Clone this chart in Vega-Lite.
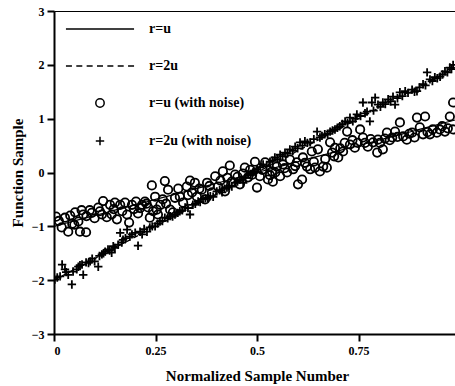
{
  "$schema": "https://vega.github.io/schema/vega-lite/v6.json",
  "autosize": "none",
  "padding": {"left": 54, "top": 11, "right": 0, "bottom": 52},
  "width": 406,
  "height": 323,
  "background": "white",
  "config": {
    "font": "Liberation Serif",
    "view": {"stroke": "black", "strokeWidth": 1},
    "axis": {
      "labelFont": "Liberation Serif", "labelFontWeight": "bold", "labelFontSize": 12, "labelColor": "black",
      "titleFont": "Liberation Serif", "titleFontWeight": "bold", "titleFontSize": 15, "titleColor": "black",
      "domainColor": "black", "domainWidth": 2, "tickColor": "black", "tickWidth": 2, "tickSize": 7, "grid": false
    },
    "legend": {
      "labelFont": "Liberation Serif", "labelFontWeight": "bold", "labelColor": "black"
    }
  },
  "datasets": {
    "lines": [
      {"x": 0, "y": -1, "series": "r=u"},
      {"x": 1, "y": 1, "series": "r=u"},
      {"x": 0, "y": -2, "series": "r=2u"},
      {"x": 1, "y": 2, "series": "r=2u"}
    ],
    "noisy": [
      {"x": 0.005, "y": -0.82, "series": "r=u (with noise)"},
      {"x": 0.012, "y": -0.9, "series": "r=u (with noise)"},
      {"x": 0.019, "y": -1.02, "series": "r=u (with noise)"},
      {"x": 0.027, "y": -0.84, "series": "r=u (with noise)"},
      {"x": 0.035, "y": -1.1, "series": "r=u (with noise)"},
      {"x": 0.04, "y": -0.8, "series": "r=u (with noise)"},
      {"x": 0.045, "y": -0.95, "series": "r=u (with noise)"},
      {"x": 0.052, "y": -0.74, "series": "r=u (with noise)"},
      {"x": 0.05, "y": -0.97, "series": "r=u (with noise)"},
      {"x": 0.06, "y": -0.91, "series": "r=u (with noise)"},
      {"x": 0.068, "y": -0.7, "series": "r=u (with noise)"},
      {"x": 0.064, "y": -1.1, "series": "r=u (with noise)"},
      {"x": 0.072, "y": -0.78, "series": "r=u (with noise)"},
      {"x": 0.079, "y": -1.11, "series": "r=u (with noise)"},
      {"x": 0.08, "y": -0.81, "series": "r=u (with noise)"},
      {"x": 0.088, "y": -0.7, "series": "r=u (with noise)"},
      {"x": 0.093, "y": -0.75, "series": "r=u (with noise)"},
      {"x": 0.1, "y": -0.85, "series": "r=u (with noise)"},
      {"x": 0.109, "y": -0.65, "series": "r=u (with noise)"},
      {"x": 0.113, "y": -0.72, "series": "r=u (with noise)"},
      {"x": 0.118, "y": -0.78, "series": "r=u (with noise)"},
      {"x": 0.121, "y": -0.53, "series": "r=u (with noise)"},
      {"x": 0.13, "y": -0.83, "series": "r=u (with noise)"},
      {"x": 0.138, "y": -0.6, "series": "r=u (with noise)"},
      {"x": 0.142, "y": -0.78, "series": "r=u (with noise)"},
      {"x": 0.147, "y": -0.68, "series": "r=u (with noise)"},
      {"x": 0.15, "y": -0.56, "series": "r=u (with noise)"},
      {"x": 0.155, "y": -0.87, "series": "r=u (with noise)"},
      {"x": 0.163, "y": -0.6, "series": "r=u (with noise)"},
      {"x": 0.168, "y": -0.72, "series": "r=u (with noise)"},
      {"x": 0.175, "y": -0.56, "series": "r=u (with noise)"},
      {"x": 0.18, "y": -0.78, "series": "r=u (with noise)"},
      {"x": 0.185, "y": -0.93, "series": "r=u (with noise)"},
      {"x": 0.192, "y": -0.6, "series": "r=u (with noise)"},
      {"x": 0.197, "y": -0.68, "series": "r=u (with noise)"},
      {"x": 0.202, "y": -0.54, "series": "r=u (with noise)"},
      {"x": 0.207, "y": -0.76, "series": "r=u (with noise)"},
      {"x": 0.212, "y": -0.66, "series": "r=u (with noise)"},
      {"x": 0.217, "y": -0.6, "series": "r=u (with noise)"},
      {"x": 0.224, "y": -0.54, "series": "r=u (with noise)"},
      {"x": 0.228, "y": -0.58, "series": "r=u (with noise)"},
      {"x": 0.232, "y": -0.65, "series": "r=u (with noise)"},
      {"x": 0.236, "y": -0.84, "series": "r=u (with noise)"},
      {"x": 0.241, "y": -0.24, "series": "r=u (with noise)"},
      {"x": 0.249, "y": -0.45, "series": "r=u (with noise)"},
      {"x": 0.244, "y": -0.72, "series": "r=u (with noise)"},
      {"x": 0.253, "y": -0.69, "series": "r=u (with noise)"},
      {"x": 0.256, "y": -0.78, "series": "r=u (with noise)"},
      {"x": 0.262, "y": -0.6, "series": "r=u (with noise)"},
      {"x": 0.268, "y": -0.5, "series": "r=u (with noise)"},
      {"x": 0.273, "y": -0.16, "series": "r=u (with noise)"},
      {"x": 0.276, "y": -0.58, "series": "r=u (with noise)"},
      {"x": 0.281, "y": -0.32, "series": "r=u (with noise)"},
      {"x": 0.286, "y": -0.69, "series": "r=u (with noise)"},
      {"x": 0.293, "y": -0.74, "series": "r=u (with noise)"},
      {"x": 0.298, "y": -0.47, "series": "r=u (with noise)"},
      {"x": 0.306, "y": -0.3, "series": "r=u (with noise)"},
      {"x": 0.31, "y": -0.45, "series": "r=u (with noise)"},
      {"x": 0.318, "y": -0.56, "series": "r=u (with noise)"},
      {"x": 0.327, "y": -0.26, "series": "r=u (with noise)"},
      {"x": 0.33, "y": -0.42, "series": "r=u (with noise)"},
      {"x": 0.335, "y": -0.15, "series": "r=u (with noise)"},
      {"x": 0.34, "y": -0.37, "series": "r=u (with noise)"},
      {"x": 0.347, "y": -0.19, "series": "r=u (with noise)"},
      {"x": 0.352, "y": -0.45, "series": "r=u (with noise)"},
      {"x": 0.358, "y": -0.3, "series": "r=u (with noise)"},
      {"x": 0.364, "y": -0.32, "series": "r=u (with noise)"},
      {"x": 0.372, "y": -0.5, "series": "r=u (with noise)"},
      {"x": 0.377, "y": -0.19, "series": "r=u (with noise)"},
      {"x": 0.383, "y": -0.25, "series": "r=u (with noise)"},
      {"x": 0.389, "y": -0.37, "series": "r=u (with noise)"},
      {"x": 0.397, "y": -0.07, "series": "r=u (with noise)"},
      {"x": 0.404, "y": -0.26, "series": "r=u (with noise)"},
      {"x": 0.41, "y": -0.15, "series": "r=u (with noise)"},
      {"x": 0.416, "y": 0.02, "series": "r=u (with noise)"},
      {"x": 0.421, "y": -0.35, "series": "r=u (with noise)"},
      {"x": 0.427, "y": -0.1, "series": "r=u (with noise)"},
      {"x": 0.433, "y": 0.13, "series": "r=u (with noise)"},
      {"x": 0.438, "y": -0.17, "series": "r=u (with noise)"},
      {"x": 0.446, "y": -0.04, "series": "r=u (with noise)"},
      {"x": 0.452, "y": -0.08, "series": "r=u (with noise)"},
      {"x": 0.458, "y": -0.22, "series": "r=u (with noise)"},
      {"x": 0.465, "y": -0.02, "series": "r=u (with noise)"},
      {"x": 0.47, "y": 0.09, "series": "r=u (with noise)"},
      {"x": 0.478, "y": -0.09, "series": "r=u (with noise)"},
      {"x": 0.483, "y": 0.05, "series": "r=u (with noise)"},
      {"x": 0.488, "y": -0.04, "series": "r=u (with noise)"},
      {"x": 0.495, "y": 0.2, "series": "r=u (with noise)"},
      {"x": 0.5, "y": -0.28, "series": "r=u (with noise)"},
      {"x": 0.507, "y": -0.07, "series": "r=u (with noise)"},
      {"x": 0.513, "y": 0.05, "series": "r=u (with noise)"},
      {"x": 0.52, "y": 0.19, "series": "r=u (with noise)"},
      {"x": 0.527, "y": -0.13, "series": "r=u (with noise)"},
      {"x": 0.532, "y": -0.05, "series": "r=u (with noise)"},
      {"x": 0.537, "y": 0.02, "series": "r=u (with noise)"},
      {"x": 0.539, "y": -0.17, "series": "r=u (with noise)"},
      {"x": 0.545, "y": 0.0, "series": "r=u (with noise)"},
      {"x": 0.549, "y": 0.11, "series": "r=u (with noise)"},
      {"x": 0.557, "y": -0.07, "series": "r=u (with noise)"},
      {"x": 0.564, "y": 0.15, "series": "r=u (with noise)"},
      {"x": 0.568, "y": 0.08, "series": "r=u (with noise)"},
      {"x": 0.574, "y": 0.0, "series": "r=u (with noise)"},
      {"x": 0.581, "y": 0.24, "series": "r=u (with noise)"},
      {"x": 0.589, "y": 0.06, "series": "r=u (with noise)"},
      {"x": 0.594, "y": 0.12, "series": "r=u (with noise)"},
      {"x": 0.598, "y": 0.19, "series": "r=u (with noise)"},
      {"x": 0.601, "y": -0.22, "series": "r=u (with noise)"},
      {"x": 0.611, "y": -0.13, "series": "r=u (with noise)"},
      {"x": 0.613, "y": 0.28, "series": "r=u (with noise)"},
      {"x": 0.618, "y": 0.18, "series": "r=u (with noise)"},
      {"x": 0.623, "y": 0.11, "series": "r=u (with noise)"},
      {"x": 0.631, "y": 0.06, "series": "r=u (with noise)"},
      {"x": 0.635, "y": 0.39, "series": "r=u (with noise)"},
      {"x": 0.64, "y": 0.2, "series": "r=u (with noise)"},
      {"x": 0.643, "y": 0.09, "series": "r=u (with noise)"},
      {"x": 0.65, "y": 0.43, "series": "r=u (with noise)"},
      {"x": 0.655, "y": 0.02, "series": "r=u (with noise)"},
      {"x": 0.663, "y": 0.11, "series": "r=u (with noise)"},
      {"x": 0.668, "y": 0.25, "series": "r=u (with noise)"},
      {"x": 0.672, "y": 0.09, "series": "r=u (with noise)"},
      {"x": 0.68, "y": 0.56, "series": "r=u (with noise)"},
      {"x": 0.685, "y": 0.37, "series": "r=u (with noise)"},
      {"x": 0.69, "y": 0.3, "series": "r=u (with noise)"},
      {"x": 0.692, "y": 0.46, "series": "r=u (with noise)"},
      {"x": 0.7, "y": 0.28, "series": "r=u (with noise)"},
      {"x": 0.705, "y": 0.45, "series": "r=u (with noise)"},
      {"x": 0.712, "y": 0.39, "series": "r=u (with noise)"},
      {"x": 0.716, "y": 0.55, "series": "r=u (with noise)"},
      {"x": 0.722, "y": 0.76, "series": "r=u (with noise)"},
      {"x": 0.729, "y": 0.52, "series": "r=u (with noise)"},
      {"x": 0.735, "y": 0.6, "series": "r=u (with noise)"},
      {"x": 0.741, "y": 0.46, "series": "r=u (with noise)"},
      {"x": 0.748, "y": 0.55, "series": "r=u (with noise)"},
      {"x": 0.754, "y": 0.8, "series": "r=u (with noise)"},
      {"x": 0.761, "y": 0.65, "series": "r=u (with noise)"},
      {"x": 0.766, "y": 0.55, "series": "r=u (with noise)"},
      {"x": 0.773, "y": 0.48, "series": "r=u (with noise)"},
      {"x": 0.78, "y": 0.62, "series": "r=u (with noise)"},
      {"x": 0.786, "y": 0.56, "series": "r=u (with noise)"},
      {"x": 0.796, "y": 0.37, "series": "r=u (with noise)"},
      {"x": 0.798, "y": 0.61, "series": "r=u (with noise)"},
      {"x": 0.803, "y": 0.55, "series": "r=u (with noise)"},
      {"x": 0.81, "y": 0.43, "series": "r=u (with noise)"},
      {"x": 0.815, "y": 0.63, "series": "r=u (with noise)"},
      {"x": 0.82, "y": 0.74, "series": "r=u (with noise)"},
      {"x": 0.827, "y": 0.6, "series": "r=u (with noise)"},
      {"x": 0.833, "y": 0.65, "series": "r=u (with noise)"},
      {"x": 0.84, "y": 0.76, "series": "r=u (with noise)"},
      {"x": 0.846, "y": 0.66, "series": "r=u (with noise)"},
      {"x": 0.852, "y": 0.93, "series": "r=u (with noise)"},
      {"x": 0.86, "y": 0.67, "series": "r=u (with noise)"},
      {"x": 0.869, "y": 0.61, "series": "r=u (with noise)"},
      {"x": 0.875, "y": 0.72, "series": "r=u (with noise)"},
      {"x": 0.882, "y": 0.74, "series": "r=u (with noise)"},
      {"x": 0.888, "y": 0.65, "series": "r=u (with noise)"},
      {"x": 0.894, "y": 1.02, "series": "r=u (with noise)"},
      {"x": 0.901, "y": 0.84, "series": "r=u (with noise)"},
      {"x": 0.909, "y": 0.71, "series": "r=u (with noise)"},
      {"x": 0.914, "y": 1.04, "series": "r=u (with noise)"},
      {"x": 0.92, "y": 0.75, "series": "r=u (with noise)"},
      {"x": 0.926, "y": 0.71, "series": "r=u (with noise)"},
      {"x": 0.933, "y": 0.8, "series": "r=u (with noise)"},
      {"x": 0.943, "y": 0.74, "series": "r=u (with noise)"},
      {"x": 0.95, "y": 0.8, "series": "r=u (with noise)"},
      {"x": 0.956, "y": 0.86, "series": "r=u (with noise)"},
      {"x": 0.963, "y": 0.76, "series": "r=u (with noise)"},
      {"x": 0.97, "y": 0.82, "series": "r=u (with noise)"},
      {"x": 0.975, "y": 1.04, "series": "r=u (with noise)"},
      {"x": 0.983, "y": 1.3, "series": "r=u (with noise)"},
      {"x": 0.983, "y": 0.8, "series": "r=u (with noise)"},
      {"x": 0.002, "y": -1.99, "series": "r=2u (with noise)"},
      {"x": 0.008, "y": -1.95, "series": "r=2u (with noise)"},
      {"x": 0.015, "y": -1.93, "series": "r=2u (with noise)"},
      {"x": 0.02, "y": -1.71, "series": "r=2u (with noise)"},
      {"x": 0.027, "y": -1.8, "series": "r=2u (with noise)"},
      {"x": 0.03, "y": -1.85, "series": "r=2u (with noise)"},
      {"x": 0.035, "y": -1.9, "series": "r=2u (with noise)"},
      {"x": 0.044, "y": -2.08, "series": "r=2u (with noise)"},
      {"x": 0.047, "y": -1.84, "series": "r=2u (with noise)"},
      {"x": 0.056, "y": -1.8, "series": "r=2u (with noise)"},
      {"x": 0.06, "y": -1.75, "series": "r=2u (with noise)"},
      {"x": 0.064, "y": -1.72, "series": "r=2u (with noise)"},
      {"x": 0.069, "y": -1.71, "series": "r=2u (with noise)"},
      {"x": 0.072, "y": -1.9, "series": "r=2u (with noise)"},
      {"x": 0.079, "y": -1.67, "series": "r=2u (with noise)"},
      {"x": 0.085, "y": -1.68, "series": "r=2u (with noise)"},
      {"x": 0.089, "y": -1.65, "series": "r=2u (with noise)"},
      {"x": 0.094, "y": -1.6, "series": "r=2u (with noise)"},
      {"x": 0.1, "y": -1.65, "series": "r=2u (with noise)"},
      {"x": 0.109, "y": -1.75, "series": "r=2u (with noise)"},
      {"x": 0.112, "y": -1.55, "series": "r=2u (with noise)"},
      {"x": 0.118, "y": -1.52, "series": "r=2u (with noise)"},
      {"x": 0.122, "y": -1.5, "series": "r=2u (with noise)"},
      {"x": 0.126, "y": -1.47, "series": "r=2u (with noise)"},
      {"x": 0.133, "y": -1.43, "series": "r=2u (with noise)"},
      {"x": 0.137, "y": -1.45, "series": "r=2u (with noise)"},
      {"x": 0.142, "y": -1.49, "series": "r=2u (with noise)"},
      {"x": 0.146, "y": -1.37, "series": "r=2u (with noise)"},
      {"x": 0.15, "y": -1.4, "series": "r=2u (with noise)"},
      {"x": 0.158, "y": -1.34, "series": "r=2u (with noise)"},
      {"x": 0.163, "y": -1.12, "series": "r=2u (with noise)"},
      {"x": 0.167, "y": -1.3, "series": "r=2u (with noise)"},
      {"x": 0.17, "y": -1.25, "series": "r=2u (with noise)"},
      {"x": 0.176, "y": -1.22, "series": "r=2u (with noise)"},
      {"x": 0.18, "y": -1.06, "series": "r=2u (with noise)"},
      {"x": 0.187, "y": -1.19, "series": "r=2u (with noise)"},
      {"x": 0.192, "y": -1.15, "series": "r=2u (with noise)"},
      {"x": 0.2, "y": -1.12, "series": "r=2u (with noise)"},
      {"x": 0.207, "y": -1.36, "series": "r=2u (with noise)"},
      {"x": 0.212, "y": -1.1, "series": "r=2u (with noise)"},
      {"x": 0.217, "y": -1.15, "series": "r=2u (with noise)"},
      {"x": 0.222, "y": -1.05, "series": "r=2u (with noise)"},
      {"x": 0.229, "y": -1.1, "series": "r=2u (with noise)"},
      {"x": 0.236, "y": -1.02, "series": "r=2u (with noise)"},
      {"x": 0.242, "y": -1.0, "series": "r=2u (with noise)"},
      {"x": 0.249, "y": -1.0, "series": "r=2u (with noise)"},
      {"x": 0.255, "y": -0.95, "series": "r=2u (with noise)"},
      {"x": 0.261, "y": -0.91, "series": "r=2u (with noise)"},
      {"x": 0.267, "y": -0.9, "series": "r=2u (with noise)"},
      {"x": 0.273, "y": -0.84, "series": "r=2u (with noise)"},
      {"x": 0.28, "y": -0.85, "series": "r=2u (with noise)"},
      {"x": 0.286, "y": -0.81, "series": "r=2u (with noise)"},
      {"x": 0.292, "y": -0.82, "series": "r=2u (with noise)"},
      {"x": 0.298, "y": -0.78, "series": "r=2u (with noise)"},
      {"x": 0.305, "y": -0.75, "series": "r=2u (with noise)"},
      {"x": 0.31, "y": -0.72, "series": "r=2u (with noise)"},
      {"x": 0.316, "y": -0.7, "series": "r=2u (with noise)"},
      {"x": 0.323, "y": -0.65, "series": "r=2u (with noise)"},
      {"x": 0.33, "y": -0.66, "series": "r=2u (with noise)"},
      {"x": 0.335, "y": -0.78, "series": "r=2u (with noise)"},
      {"x": 0.342, "y": -0.6, "series": "r=2u (with noise)"},
      {"x": 0.348, "y": -0.58, "series": "r=2u (with noise)"},
      {"x": 0.355, "y": -0.54, "series": "r=2u (with noise)"},
      {"x": 0.36, "y": -0.55, "series": "r=2u (with noise)"},
      {"x": 0.367, "y": -0.5, "series": "r=2u (with noise)"},
      {"x": 0.373, "y": -0.48, "series": "r=2u (with noise)"},
      {"x": 0.379, "y": -0.47, "series": "r=2u (with noise)"},
      {"x": 0.385, "y": -0.44, "series": "r=2u (with noise)"},
      {"x": 0.392, "y": -0.45, "series": "r=2u (with noise)"},
      {"x": 0.401, "y": -0.35, "series": "r=2u (with noise)"},
      {"x": 0.408, "y": -0.33, "series": "r=2u (with noise)"},
      {"x": 0.414, "y": -0.37, "series": "r=2u (with noise)"},
      {"x": 0.42, "y": -0.3, "series": "r=2u (with noise)"},
      {"x": 0.426, "y": -0.28, "series": "r=2u (with noise)"},
      {"x": 0.432, "y": -0.25, "series": "r=2u (with noise)"},
      {"x": 0.438, "y": -0.26, "series": "r=2u (with noise)"},
      {"x": 0.446, "y": -0.19, "series": "r=2u (with noise)"},
      {"x": 0.452, "y": -0.17, "series": "r=2u (with noise)"},
      {"x": 0.458, "y": -0.13, "series": "r=2u (with noise)"},
      {"x": 0.466, "y": -0.19, "series": "r=2u (with noise)"},
      {"x": 0.472, "y": -0.1, "series": "r=2u (with noise)"},
      {"x": 0.478, "y": -0.04, "series": "r=2u (with noise)"},
      {"x": 0.484, "y": -0.05, "series": "r=2u (with noise)"},
      {"x": 0.49, "y": 0.0, "series": "r=2u (with noise)"},
      {"x": 0.495, "y": 0.02, "series": "r=2u (with noise)"},
      {"x": 0.5, "y": 0.06, "series": "r=2u (with noise)"},
      {"x": 0.508, "y": 0.1, "series": "r=2u (with noise)"},
      {"x": 0.515, "y": 0.15, "series": "r=2u (with noise)"},
      {"x": 0.524, "y": 0.12, "series": "r=2u (with noise)"},
      {"x": 0.532, "y": 0.2, "series": "r=2u (with noise)"},
      {"x": 0.538, "y": 0.22, "series": "r=2u (with noise)"},
      {"x": 0.544, "y": 0.28, "series": "r=2u (with noise)"},
      {"x": 0.55, "y": 0.25, "series": "r=2u (with noise)"},
      {"x": 0.557, "y": 0.33, "series": "r=2u (with noise)"},
      {"x": 0.563, "y": 0.3, "series": "r=2u (with noise)"},
      {"x": 0.569, "y": 0.37, "series": "r=2u (with noise)"},
      {"x": 0.575, "y": 0.35, "series": "r=2u (with noise)"},
      {"x": 0.581, "y": 0.43, "series": "r=2u (with noise)"},
      {"x": 0.588, "y": 0.4, "series": "r=2u (with noise)"},
      {"x": 0.594, "y": 0.48, "series": "r=2u (with noise)"},
      {"x": 0.6, "y": 0.45, "series": "r=2u (with noise)"},
      {"x": 0.606, "y": 0.56, "series": "r=2u (with noise)"},
      {"x": 0.612, "y": 0.5, "series": "r=2u (with noise)"},
      {"x": 0.618, "y": 0.58, "series": "r=2u (with noise)"},
      {"x": 0.624, "y": 0.55, "series": "r=2u (with noise)"},
      {"x": 0.631, "y": 0.56, "series": "r=2u (with noise)"},
      {"x": 0.64, "y": 0.62, "series": "r=2u (with noise)"},
      {"x": 0.648, "y": 0.76, "series": "r=2u (with noise)"},
      {"x": 0.655, "y": 0.65, "series": "r=2u (with noise)"},
      {"x": 0.66, "y": 0.68, "series": "r=2u (with noise)"},
      {"x": 0.667, "y": 0.71, "series": "r=2u (with noise)"},
      {"x": 0.674, "y": 0.72, "series": "r=2u (with noise)"},
      {"x": 0.68, "y": 0.76, "series": "r=2u (with noise)"},
      {"x": 0.686, "y": 0.78, "series": "r=2u (with noise)"},
      {"x": 0.692, "y": 0.8, "series": "r=2u (with noise)"},
      {"x": 0.698, "y": 0.83, "series": "r=2u (with noise)"},
      {"x": 0.704, "y": 0.86, "series": "r=2u (with noise)"},
      {"x": 0.71, "y": 0.9, "series": "r=2u (with noise)"},
      {"x": 0.717, "y": 0.95, "series": "r=2u (with noise)"},
      {"x": 0.723, "y": 0.92, "series": "r=2u (with noise)"},
      {"x": 0.729, "y": 1.02, "series": "r=2u (with noise)"},
      {"x": 0.736, "y": 0.95, "series": "r=2u (with noise)"},
      {"x": 0.742, "y": 1.0, "series": "r=2u (with noise)"},
      {"x": 0.746, "y": 1.08, "series": "r=2u (with noise)"},
      {"x": 0.755, "y": 1.05, "series": "r=2u (with noise)"},
      {"x": 0.761, "y": 1.3, "series": "r=2u (with noise)"},
      {"x": 0.766, "y": 1.1, "series": "r=2u (with noise)"},
      {"x": 0.771, "y": 1.13, "series": "r=2u (with noise)"},
      {"x": 0.778, "y": 0.95, "series": "r=2u (with noise)"},
      {"x": 0.783, "y": 1.3, "series": "r=2u (with noise)"},
      {"x": 0.787, "y": 1.15, "series": "r=2u (with noise)"},
      {"x": 0.791, "y": 1.39, "series": "r=2u (with noise)"},
      {"x": 0.798, "y": 1.26, "series": "r=2u (with noise)"},
      {"x": 0.804, "y": 1.22, "series": "r=2u (with noise)"},
      {"x": 0.81, "y": 1.3, "series": "r=2u (with noise)"},
      {"x": 0.816, "y": 1.27, "series": "r=2u (with noise)"},
      {"x": 0.823, "y": 1.36, "series": "r=2u (with noise)"},
      {"x": 0.829, "y": 1.32, "series": "r=2u (with noise)"},
      {"x": 0.835, "y": 1.41, "series": "r=2u (with noise)"},
      {"x": 0.84, "y": 1.26, "series": "r=2u (with noise)"},
      {"x": 0.846, "y": 1.38, "series": "r=2u (with noise)"},
      {"x": 0.852, "y": 1.49, "series": "r=2u (with noise)"},
      {"x": 0.858, "y": 1.42, "series": "r=2u (with noise)"},
      {"x": 0.865, "y": 1.51, "series": "r=2u (with noise)"},
      {"x": 0.872, "y": 1.48, "series": "r=2u (with noise)"},
      {"x": 0.882, "y": 1.54, "series": "r=2u (with noise)"},
      {"x": 0.888, "y": 1.5, "series": "r=2u (with noise)"},
      {"x": 0.894, "y": 1.51, "series": "r=2u (with noise)"},
      {"x": 0.9, "y": 1.58, "series": "r=2u (with noise)"},
      {"x": 0.909, "y": 1.64, "series": "r=2u (with noise)"},
      {"x": 0.915, "y": 1.62, "series": "r=2u (with noise)"},
      {"x": 0.919, "y": 1.86, "series": "r=2u (with noise)"},
      {"x": 0.926, "y": 1.73, "series": "r=2u (with noise)"},
      {"x": 0.932, "y": 1.7, "series": "r=2u (with noise)"},
      {"x": 0.938, "y": 1.77, "series": "r=2u (with noise)"},
      {"x": 0.944, "y": 1.75, "series": "r=2u (with noise)"},
      {"x": 0.951, "y": 1.78, "series": "r=2u (with noise)"},
      {"x": 0.957, "y": 1.82, "series": "r=2u (with noise)"},
      {"x": 0.963, "y": 1.88, "series": "r=2u (with noise)"},
      {"x": 0.969, "y": 1.86, "series": "r=2u (with noise)"},
      {"x": 0.975, "y": 1.95, "series": "r=2u (with noise)"},
      {"x": 0.979, "y": 1.92, "series": "r=2u (with noise)"},
      {"x": 0.983, "y": 2.0, "series": "r=2u (with noise)"}
    ]
  },
  "layer": [
    {
      "data": {"name": "lines"},
      "mark": {"type": "line", "color": "black", "strokeWidth": 1.2, "clip": true},
      "encoding": {
        "x": {"field": "x", "type": "quantitative", "scale": {"domain": [0, 1], "nice": false, "zero": false},
          "axis": {"values": [0, 0.25, 0.5, 0.75], "format": ".2~f", "title": "Normalized Sample Number", "labelPadding": 4, "titlePadding": 12}},
        "y": {"field": "y", "type": "quantitative", "scale": {"domain": [-3, 3], "nice": false},
          "axis": {"values": [-3, -2, -1, 0, 1, 2, 3], "format": "d", "title": "Function Sample", "labelPadding": 3, "titlePadding": 6}},
        "strokeDash": {"field": "series", "type": "nominal", "scale": {"domain": ["r=u", "r=2u"], "range": [[1, 0], [5, 4]]}, "legend": null}
      }
    },
    {
      "data": {"name": "noisy"},
      "mark": {"type": "point", "filled": false, "color": "black", "strokeWidth": 1.8, "size": 900, "opacity": 1, "clip": true},
      "encoding": {
        "x": {"field": "x", "type": "quantitative"},
        "y": {"field": "y", "type": "quantitative"},
        "shape": {
          "field": "series", "type": "nominal",
          "scale": {
            "domain": ["r=u", "r=2u", "r=u (with noise)", "r=2u (with noise)"],
            "range": [
              "M-2.27,0H2.27",
              "M-2.27,0H-1.87M-1.58,0H-1.18M-0.89,0H-0.49M-0.2,0H0.2M0.49,0H0.89M1.18,0H1.58M1.87,0H2.27",
              "M0.28,0A0.28,0.28,0,1,1,-0.28,0A0.28,0.28,0,1,1,0.28,0Z",
              "M-0.28,0H0.28M0,-0.28V0.28"
            ]
          },
          "legend": {
            "title": null, "orient": "none", "legendX": 30, "legendY": 2,
            "symbolSize": 900, "symbolStrokeWidth": 1.5, "symbolStrokeColor": "black", "symbolFillColor": "transparent",
            "labelOffset": 33, "rowPadding": 14, "padding": 0,
            "labelFontSize": {"expr": "14"},
            "encode": {
              "labels": {"update": {"fontSize": {"signal": "datum.index === 0 ? 10 : 14"}, "dy": {"value": 3}}}
            }
          }
        }
      }
    }
  ]
}
